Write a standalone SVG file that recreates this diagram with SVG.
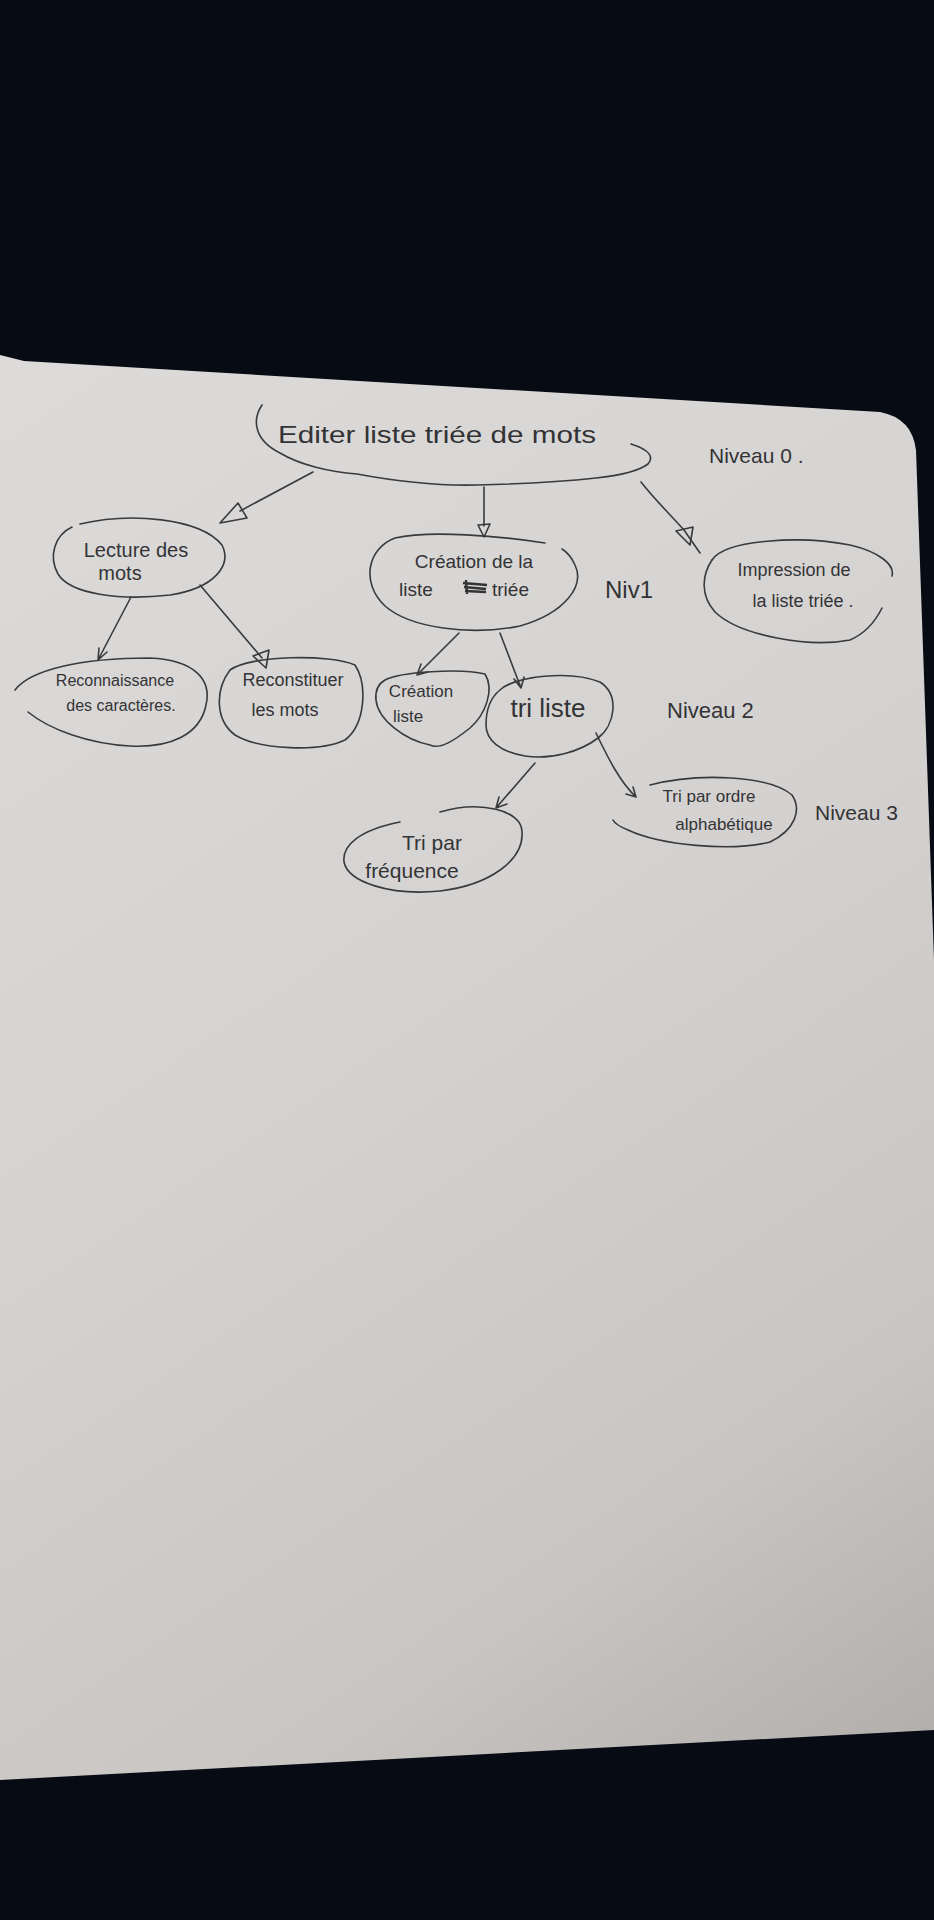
<svg xmlns="http://www.w3.org/2000/svg" width="934" height="1920" viewBox="0 0 934 1920">
<defs>
<linearGradient id="paperGrad" x1="0" y1="355" x2="934" y2="1730" gradientUnits="userSpaceOnUse">
<stop offset="0" stop-color="#dddbd9"/>
<stop offset="0.45" stop-color="#d5d3d1"/>
<stop offset="0.8" stop-color="#c8c5c3"/>
<stop offset="1" stop-color="#b2afad"/>
</linearGradient>
<style>
.ink{fill:none;stroke:#3a3a3d;stroke-width:1.6;stroke-linecap:round;stroke-linejoin:round}
.txt{font-family:"Liberation Sans",Arial,sans-serif;fill:#333336}
</style>
</defs>
<rect x="0" y="0" width="934" height="1920" fill="#070b14"/>
<g id="paper">
<path d="M 893,426 L 908,428 L 912,446 L 898,446 Z" fill="#c9c7c5"/>
<path d="M 0,355 L 24,361 L 880,412 Q 912,418 916,450 L 934,960 L 934,1730 L 0,1780 Z" fill="url(#paperGrad)"/>
</g>
<g id="connectors">
<path class="ink" d="M 313,472 L 240,511"/>
<path class="ink" d="M 220,523 L 238,503 L 247,518 Z"/>
<path class="ink" d="M 484,487 L 484,526"/>
<path class="ink" d="M 478,525 L 490,524 L 484,537 Z"/>
<path class="ink" d="M 641,482 C 655,500 668,512 684,530 L 700,553"/>
<path class="ink" d="M 676,531 L 693,527 L 690,545 Z"/>
<path class="ink" d="M 131,597 L 98,660 M 98,660 L 99,648 M 98,660 L 107,652"/>
<path class="ink" d="M 200,585 L 262,658"/>
<path class="ink" d="M 253,656 L 269,650 L 266,668 Z"/>
<path class="ink" d="M 459,633 L 417,675 M 417,675 L 421,664 M 417,675 L 428,672"/>
<path class="ink" d="M 500,633 L 521,688 M 521,688 L 514,679 M 521,688 L 524,677"/>
<path class="ink" d="M 535,763 L 496,808 M 496,808 L 499,797 M 496,808 L 507,804"/>
<path class="ink" d="M 596,733 C 608,758 620,782 636,797 M 636,797 L 626,794 M 636,797 L 633,787"/>
</g>
<g id="root">
<path class="ink" d="M 262,405 C 252,420 254,440 280,453 C 300,465 330,472 357,474 C 400,482 440,486 477,485 C 520,484 560,482 596,478 C 625,475 640,470 648,464 C 654,457 650,450 631,444"/>
<text class="txt" x="437" y="443" font-size="24" text-anchor="middle" textLength="318" lengthAdjust="spacingAndGlyphs">Editer liste triée de mots</text>
</g>
<g id="lecture">
<path class="ink" d="M 80,524 C 130,512 200,518 222,545 C 232,565 215,588 170,595 C 120,601 70,594 58,574 C 48,556 55,535 72,527"/>
<text class="txt" x="136" y="557" font-size="20" text-anchor="middle">Lecture des</text>
<text class="txt" x="120" y="580" font-size="20" text-anchor="middle">mots</text>
</g>
<g id="creation">
<path class="ink" d="M 545,543 C 500,536 430,530 395,538 C 368,548 360,582 385,606 C 410,628 470,636 520,626 C 565,613 585,586 575,565 C 571,556 567,552 562,549"/>
<text class="txt" x="474" y="568" font-size="19" text-anchor="middle">Création de la</text>
<text class="txt" x="399" y="596" font-size="19">liste</text>
<path d="M 463,583 L 487,585 M 464,587 L 486,589 M 465,591 L 486,592 M 466,580 L 467,594" stroke="#333336" stroke-width="2.4" fill="none"/>
<text class="txt" x="492" y="596" font-size="19">triée</text>
</g>
<g id="impression">
<path class="ink" d="M 712,560 C 725,540 800,535 850,545 C 880,552 895,565 892,576"/>
<path class="ink" d="M 882,608 C 874,624 864,634 850,640 C 810,648 740,636 715,612 C 700,595 702,575 712,560"/>
<text class="txt" x="794" y="576" font-size="18" text-anchor="middle">Impression de</text>
<text class="txt" x="803" y="607" font-size="18" text-anchor="middle">la liste triée .</text>
</g>
<g id="reconnaissance">
<path class="ink" d="M 15,690 C 30,670 80,658 150,658 C 195,660 212,680 206,705 C 200,735 170,748 130,746 C 90,744 50,730 28,712"/>
<text class="txt" x="115" y="686" font-size="16" text-anchor="middle">Reconnaissance</text>
<text class="txt" x="121" y="711" font-size="16" text-anchor="middle">des caractères.</text>
</g>
<g id="reconstituer">
<path class="ink" d="M 230,670 C 250,655 330,654 355,665 C 368,685 365,725 345,740 C 320,752 260,750 235,735 C 215,720 215,690 230,670"/>
<text class="txt" x="293" y="686" font-size="18" text-anchor="middle">Reconstituer</text>
<text class="txt" x="285" y="716" font-size="18" text-anchor="middle">les mots</text>
</g>
<g id="creation-liste">
<path class="ink" d="M 385,680 C 400,672 460,668 485,674 C 495,690 485,715 470,728 C 455,740 440,750 430,745 C 405,740 378,720 376,700 C 375,690 378,684 385,680"/>
<text class="txt" x="421" y="697" font-size="17" text-anchor="middle">Création</text>
<text class="txt" x="408" y="722" font-size="17" text-anchor="middle">liste</text>
</g>
<g id="tri-liste">
<path class="ink" d="M 500,690 C 515,676 570,670 600,682 C 620,695 615,725 598,738 C 580,752 550,760 525,756 C 500,752 486,740 486,725 C 486,712 490,698 500,690"/>
<text class="txt" x="548" y="717" font-size="26" text-anchor="middle">tri liste</text>
</g>
<g id="tri-frequence">
<path class="ink" d="M 440,812 C 480,800 522,810 522,832 C 524,860 490,885 440,891 C 390,896 348,882 344,862 C 342,845 360,830 400,822"/>
<text class="txt" x="432" y="850" font-size="21" text-anchor="middle">Tri par</text>
<text class="txt" x="412" y="878" font-size="21" text-anchor="middle">fréquence</text>
</g>
<g id="tri-alphabetique">
<path class="ink" d="M 650,785 C 700,772 770,776 792,795 C 802,810 795,830 770,842 C 730,852 660,845 628,830 C 618,826 614,822 613,820"/>
<text class="txt" x="709" y="802" font-size="17" text-anchor="middle">Tri par ordre</text>
<text class="txt" x="724" y="830" font-size="17" text-anchor="middle">alphabétique</text>
</g>
<g id="levels">
<text class="txt" x="709" y="463" font-size="21">Niveau 0 .</text>
<text class="txt" x="605" y="598" font-size="24">Niv1</text>
<text class="txt" x="667" y="718" font-size="22">Niveau 2</text>
<text class="txt" x="815" y="820" font-size="21">Niveau 3</text>
</g>
</svg>
